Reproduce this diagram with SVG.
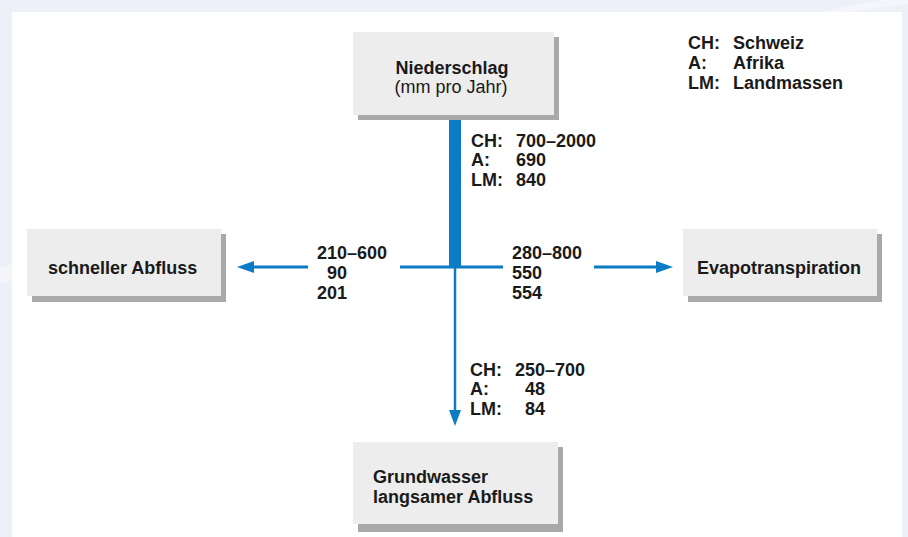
<svg xmlns="http://www.w3.org/2000/svg" width="908" height="537" viewBox="0 0 908 537">
<defs>
<style>
.bg{fill:#edf0f8}
.panel{fill:#ffffff}
.box{fill:#ededed}
.sh{fill:#a9a9a9}
text{font-family:"Liberation Sans",Arial,Helvetica,sans-serif;font-size:18px;fill:#1a1a1a}
.b{font-weight:bold}
.ln{stroke:#0a7bc4;fill:none}
.ah{fill:#0a7bc4}
</style>
</defs>
<rect class="bg" x="0" y="0" width="908" height="537"/>
<polygon points="820,12 880,0 908,0 908,4 850,12" fill="#f4f6fb"/>
<polygon points="0,268 12,264 12,280 0,284" fill="#f3f5fb"/>
<rect class="panel" x="12" y="12" width="890" height="525"/>

<g id="legend">
<text class="b" x="688" y="49">CH:</text><text class="b" x="733" y="49">Schweiz</text>
<text class="b" x="688" y="69">A:</text><text class="b" x="733" y="69">Afrika</text>
<text class="b" x="688" y="89">LM:</text><text class="b" x="733" y="89">Landmassen</text>
</g>

<g id="connectors">
<rect x="449" y="112" width="12" height="156" fill="#0a7bc4"/>
<line class="ln" x1="400" y1="267" x2="503" y2="267" stroke-width="3"/>
<line class="ln" x1="308" y1="267" x2="252" y2="267" stroke-width="3"/>
<polygon class="ah" points="237,267 254,261 254,273"/>
<line class="ln" x1="594" y1="267" x2="658" y2="267" stroke-width="3"/>
<polygon class="ah" points="673,267 656,261 656,273"/>
<line class="ln" x1="455" y1="267" x2="455" y2="412" stroke-width="2.5"/>
<polygon class="ah" points="455,426 449,410 461,410"/>
</g>

<g id="labels">
<text class="b" x="471" y="147">CH:</text><text class="b" x="516" y="147">700–2000</text>
<text class="b" x="471" y="166">A:</text><text class="b" x="516" y="166">690</text>
<text class="b" x="471" y="186">LM:</text><text class="b" x="516" y="186">840</text>

<text class="b" x="317" y="259">210–600</text>
<text class="b" x="327" y="279">90</text>
<text class="b" x="317" y="299">201</text>

<text class="b" x="512" y="259">280–800</text>
<text class="b" x="512" y="279">550</text>
<text class="b" x="512" y="299">554</text>

<text class="b" x="470" y="376">CH:</text><text class="b" x="515" y="376">250–700</text>
<text class="b" x="470" y="395">A:</text><text class="b" x="525" y="395">48</text>
<text class="b" x="470" y="415">LM:</text><text class="b" x="525" y="415">84</text>
</g>

<g id="niederschlag">
<rect class="sh" x="358" y="37" width="201" height="83"/>
<rect class="box" x="353" y="32" width="201" height="83"/>
<text class="b" x="452" y="74" text-anchor="middle">Niederschlag</text>
<text x="451" y="93" text-anchor="middle">(mm pro Jahr)</text>
</g>

<g id="schneller">
<rect class="sh" x="32" y="234" width="194" height="68"/>
<rect class="box" x="27" y="229" width="194" height="67"/>
<text class="b" x="48" y="274">schneller Abfluss</text>
</g>

<g id="evapo">
<rect class="sh" x="688" y="234" width="194" height="68"/>
<rect class="box" x="683" y="229" width="194" height="67"/>
<text class="b" x="697" y="274">Evapotranspiration</text>
</g>

<g id="grundwasser">
<rect class="sh" x="358" y="447" width="205" height="85"/>
<rect class="box" x="353" y="442" width="205" height="82"/>
<text class="b" x="373" y="483">Grundwasser</text>
<text class="b" x="373" y="503">langsamer Abfluss</text>
</g>
</svg>
